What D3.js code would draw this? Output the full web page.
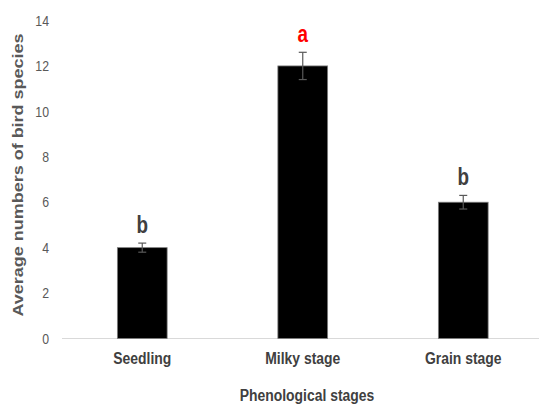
<!DOCTYPE html>
<html><head><meta charset="utf-8">
<script src="https://cdn.jsdelivr.net/npm/d3@7"></script>
<style>body{margin:0;background:#fff}svg{display:block}</style>
</head><body>
<svg id="c" width="539" height="405"></svg>
<script>
const categories = ["Seedling", "Milky stage", "Grain stage"];
const means = [4.0, 12.0, 6.0];
const errors = [0.2, 0.6, 0.3];
const letters = ["b", "a", "b"];
const letterColors = ["#404040", "#ff0000", "#404040"];
const yTicks = [0, 2, 4, 6, 8, 10, 12, 14];
const yTitle = "Average numbers of bird species";
const xTitle = "Phenological stages";

const svg = d3.select("#c");
const font = "'Liberation Sans', Arial, sans-serif";
const sx = 0.82;
const x = d3.scaleBand().domain(categories).range([62, 543.5]).paddingInner(0.69).paddingOuter(0.345);
const y = d3.scaleLinear().domain([0, 14]).range([338.5, 20.5]);
const tf = (px, py) => `translate(${px},${py}) scale(${sx},1)`;

// tick labels
svg.append("g").selectAll("text").data(yTicks).join("text")
  .attr("transform", d => tf(49, y(d))).attr("dy", "0.35em")
  .attr("text-anchor", "end").attr("font-family", font).attr("font-size", 15)
  .attr("fill", "#595959").text(d => d);

// x axis line
svg.append("line").attr("x1", 62).attr("x2", 539).attr("y1", y(0)).attr("y2", y(0))
  .attr("stroke", "#d9d9d9").attr("stroke-width", 1);

const data = categories.map((c, i) => ({c, m: means[i], e: errors[i], l: letters[i], col: letterColors[i]}));

svg.append("g").selectAll("rect").data(data).join("rect")
  .attr("x", d => x(d.c)).attr("width", x.bandwidth())
  .attr("y", d => y(d.m)).attr("height", d => y(0) - y(d.m))
  .attr("fill", "#000").attr("stroke", "#7f7f7f").attr("stroke-width", 0.8);

const eb = svg.append("g").attr("stroke", "#595959").attr("stroke-width", 1.2);
data.forEach(d => {
  const cx = x(d.c) + x.bandwidth() / 2;
  eb.append("line").attr("x1", cx).attr("x2", cx).attr("y1", y(d.m + d.e)).attr("y2", y(d.m - d.e));
  eb.append("line").attr("x1", cx - 4).attr("x2", cx + 4).attr("y1", y(d.m + d.e)).attr("y2", y(d.m + d.e));
  eb.append("line").attr("x1", cx - 4).attr("x2", cx + 4).attr("y1", y(d.m - d.e)).attr("y2", y(d.m - d.e));
});

svg.append("g").selectAll("text").data(data).join("text")
  .attr("transform", d => tf(x(d.c) + x.bandwidth() / 2, y(d.m + d.e) - 10))
  .attr("text-anchor", "middle").attr("font-family", font).attr("font-weight", "bold")
  .attr("font-size", 23).attr("fill", d => d.col).text(d => d.l);

// category labels
svg.append("g").selectAll("text").data(categories).join("text")
  .attr("transform", d => tf(x(d) + x.bandwidth() / 2, 364))
  .attr("text-anchor", "middle").attr("font-family", font).attr("font-weight", "bold")
  .attr("font-size", 17).attr("fill", "#404040").text(d => d);

svg.append("text").attr("transform", tf(307, 401)).attr("text-anchor", "middle")
  .attr("font-family", font).attr("font-weight", "bold").attr("font-size", 17)
  .attr("fill", "#404040").text(xTitle);

svg.append("text").attr("transform", "translate(23,175) rotate(-90) scale(1,0.82)")
  .attr("text-anchor", "middle").attr("font-family", font)
  .attr("font-weight", "bold").attr("font-size", 18).attr("fill", "#595959").text(yTitle);
</script>
</body></html>
